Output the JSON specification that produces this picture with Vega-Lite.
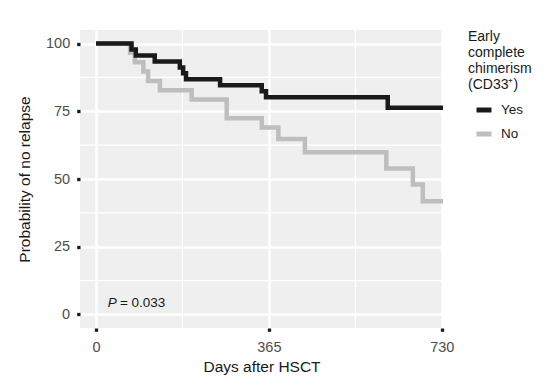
{
  "$schema": "https://vega.github.io/schema/vega-lite/v6.json",
  "width": 363,
  "height": 298,
  "autosize": {"type": "none"},
  "padding": {"left": 80, "top": 30, "right": 110, "bottom": 58},
  "config": {
    "font": "Liberation Sans",
    "view": {"fill": "#efefef", "stroke": null},
    "axis": {
      "domain": false,
      "grid": true,
      "gridColor": "#ffffff",
      "gridWidth": 2.5,
      "tickColor": "#1a1a1a",
      "tickSize": 3.3,
      "tickWidth": 3.3,
      "labelColor": "#4d4d4d",
      "labelFontSize": 14.5,
      "titleFontSize": 15.5,
      "titleColor": "#1a1a1a",
      "titleFontWeight": "normal",
      "labelPadding": 7
    },
    "axisY": {"titlePadding": 13},
    "axisX": {"labelPadding": 9, "titlePadding": 6},
    "legend": {
      "titleFontSize": 14,
      "titleFontWeight": "normal",
      "titleColor": "#1a1a1a",
      "titleLineHeight": 16,
      "labelFontSize": 13.5,
      "labelColor": "#1a1a1a",
      "symbolType": "stroke",
      "symbolStrokeWidth": 5,
      "symbolSize": 225,
      "rowPadding": 4,
      "titlePadding": 8,
      "offset": 25,
      "padding": 0,
      "symbolOffset": 6,
      "labelOffset": 7
    }
  },
  "datasets": {
    "surv": [
      {"group": "Yes", "day": 0, "surv": 100},
      {"group": "Yes", "day": 75, "surv": 97.8},
      {"group": "Yes", "day": 84, "surv": 95.6},
      {"group": "Yes", "day": 124, "surv": 93.4},
      {"group": "Yes", "day": 177, "surv": 91.2},
      {"group": "Yes", "day": 184, "surv": 89.0},
      {"group": "Yes", "day": 190, "surv": 86.8},
      {"group": "Yes", "day": 262, "surv": 84.6},
      {"group": "Yes", "day": 350, "surv": 82.4},
      {"group": "Yes", "day": 359, "surv": 80.2},
      {"group": "Yes", "day": 616, "surv": 76.3},
      {"group": "Yes", "day": 733, "surv": 76.3},
      {"group": "No", "day": 0, "surv": 100},
      {"group": "No", "day": 72, "surv": 96.6},
      {"group": "No", "day": 82, "surv": 93.1},
      {"group": "No", "day": 100, "surv": 89.7},
      {"group": "No", "day": 110, "surv": 86.2},
      {"group": "No", "day": 135, "surv": 82.8},
      {"group": "No", "day": 202, "surv": 79.3},
      {"group": "No", "day": 276, "surv": 72.4},
      {"group": "No", "day": 350, "surv": 69.0},
      {"group": "No", "day": 385, "surv": 64.8},
      {"group": "No", "day": 441, "surv": 59.9},
      {"group": "No", "day": 613, "surv": 53.9},
      {"group": "No", "day": 669, "surv": 48.0},
      {"group": "No", "day": 690, "surv": 41.8},
      {"group": "No", "day": 733, "surv": 41.8}
    ],
    "minorX": [{"day": 182.5}, {"day": 547.5}],
    "minorY": [{"surv": 12.5}, {"surv": 37.5}, {"surv": 62.5}, {"surv": 87.5}]
  },
  "layer": [
    {
      "data": {"name": "minorX"},
      "mark": {"type": "rule", "color": "#ffffff", "strokeWidth": 1.2},
      "encoding": {
        "x": {"field": "day", "type": "quantitative", "title": "Days after HSCT",
              "scale": {"domain": [-33.8, 732.7], "nice": false, "zero": false},
              "axis": {"values": [0, 365, 730]}}
      }
    },
    {
      "data": {"name": "minorY"},
      "mark": {"type": "rule", "color": "#ffffff", "strokeWidth": 1.2},
      "encoding": {
        "y": {"field": "surv", "type": "quantitative", "title": "Probability of no relapse",
              "scale": {"domain": [-5, 105], "nice": false, "zero": false},
              "axis": {"values": [0, 25, 50, 75, 100]}}
      }
    },
    {
      "data": {"name": "surv"},
      "transform": [{"filter": "datum.group === 'No'"}],
      "mark": {"type": "line", "interpolate": "step-after", "strokeWidth": 4.5, "clip": true},
      "encoding": {
        "x": {"field": "day", "type": "quantitative", "title": "Days after HSCT",
              "scale": {"domain": [-33.8, 732.7], "nice": false, "zero": false},
              "axis": {"values": [0, 365, 730]}},
        "y": {"field": "surv", "type": "quantitative", "title": "Probability of no relapse",
              "scale": {"domain": [-5, 105], "nice": false, "zero": false},
              "axis": {"values": [0, 25, 50, 75, 100]}},
        "color": {"field": "group", "type": "nominal",
                  "title": ["Early", "complete", "chimerism", "(CD33⁺)"],
                  "scale": {"domain": ["Yes", "No"], "range": ["#1a1a1a", "#bebebe"]}}
      }
    },
    {
      "data": {"name": "surv"},
      "transform": [{"filter": "datum.group === 'Yes'"}],
      "mark": {"type": "line", "interpolate": "step-after", "strokeWidth": 4.5, "clip": true},
      "encoding": {
        "x": {"field": "day", "type": "quantitative", "title": "Days after HSCT",
              "scale": {"domain": [-33.8, 732.7], "nice": false, "zero": false},
              "axis": {"values": [0, 365, 730]}},
        "y": {"field": "surv", "type": "quantitative", "title": "Probability of no relapse",
              "scale": {"domain": [-5, 105], "nice": false, "zero": false},
              "axis": {"values": [0, 25, 50, 75, 100]}},
        "color": {"field": "group", "type": "nominal",
                  "title": ["Early", "complete", "chimerism", "(CD33⁺)"],
                  "scale": {"domain": ["Yes", "No"], "range": ["#1a1a1a", "#bebebe"]}}
      }
    },
    {
      "data": {"values": [{"day": 25, "surv": 4.4, "label": "P"}]},
      "mark": {"type": "text", "align": "left", "baseline": "middle", "fontSize": 13.5, "fontStyle": "italic", "color": "#1a1a1a"},
      "encoding": {
        "x": {"field": "day", "type": "quantitative", "title": "Days after HSCT"},
        "y": {"field": "surv", "type": "quantitative", "title": "Probability of no relapse"},
        "text": {"field": "label"}
      }
    },
    {
      "data": {"values": [{"day": 50.5, "surv": 4.4, "label": "= 0.033"}]},
      "mark": {"type": "text", "align": "left", "baseline": "middle", "fontSize": 13.5, "color": "#1a1a1a"},
      "encoding": {
        "x": {"field": "day", "type": "quantitative", "title": "Days after HSCT"},
        "y": {"field": "surv", "type": "quantitative", "title": "Probability of no relapse"},
        "text": {"field": "label"}
      }
    }
  ]
}
